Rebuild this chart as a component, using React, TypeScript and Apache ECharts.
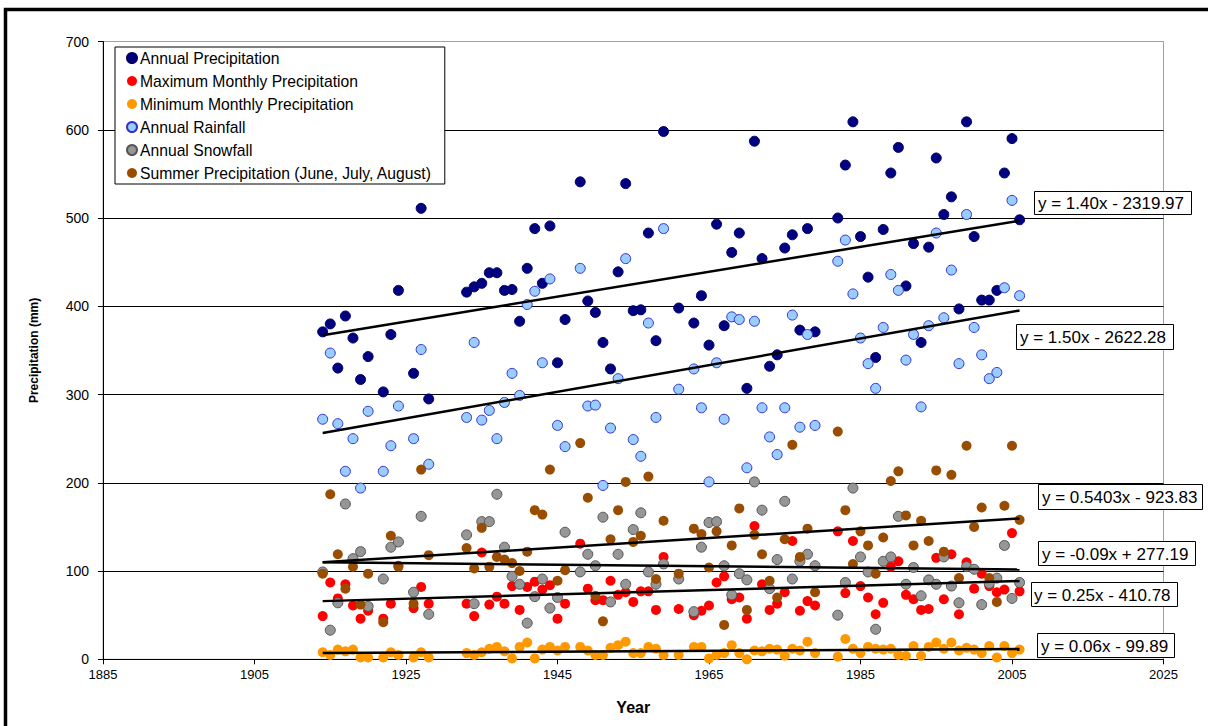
import React, { useEffect, useRef } from "react";
import * as echarts from "echarts";

const FONT = "'Liberation Sans', Arial, sans-serif";

const years = [
  1914, 1915, 1916, 1917, 1918, 1919, 1920, 1922, 1923, 1924, 1926, 1927, 1928,
  1933, 1934, 1935, 1936, 1937, 1938, 1939, 1940, 1941, 1942, 1943, 1944, 1945, 1946,
  1948, 1949, 1950, 1951, 1952, 1953, 1954, 1955, 1956, 1957, 1958, 1959,
  1961, 1963, 1964, 1965, 1966, 1967, 1968, 1969, 1970, 1971, 1972, 1973, 1974, 1975,
  1976, 1977, 1978, 1979, 1982, 1983, 1984, 1985, 1986, 1987, 1988, 1989, 1990, 1991,
  1992, 1993, 1994, 1995, 1996, 1997, 1998, 1999, 2000, 2001, 2002, 2003, 2004, 2005, 2006,
];

const annualPrecipitation = [
  371, 380, 330, 389, 364, 317, 343, 303, 368, 418, 324, 511, 295,
  416, 422, 426, 438, 438, 418, 419, 383, 443, 488, 426, 491, 336, 385,
  541, 406, 393, 359, 329, 439, 539, 395, 396, 483, 361, 598,
  398, 381, 412, 356, 493, 378, 461, 483, 307, 587, 454, 332, 345, 466,
  481, 373, 488, 371, 500, 560, 609, 479, 433, 342, 487, 551, 580, 423,
  471, 359, 467, 568, 504, 524, 397, 609, 479, 407, 407, 418, 551, 590, 498,
];

const maximumMonthly = [
  49, 87, 69, 85, 61, 46, 55, 46, 63, 106, 58, 82, 63,
  63, 49, 121, 62, 71, 63, 83, 56, 82, 88, 79, 84, 46, 63,
  131, 80, 67, 67, 89, 73, 76, 65, 77, 77, 56, 116,
  57, 50, 55, 61, 87, 94, 68, 70, 46, 151, 85, 56, 63, 76,
  134, 55, 66, 61, 145, 75, 134, 83, 70, 51, 64, 105, 111, 73,
  68, 56, 57, 115, 68, 119, 51, 110, 80, 97, 83, 76, 79, 143, 77,
];

const minimumMonthly = [
  8, 5, 11, 9, 11, 2, 2, 2, 8, 5, 2, 8, 2,
  7, 5, 8, 12, 14, 9, 1, 14, 19, 1, 11, 14, 10, 14,
  14, 10, 5, 5, 13, 16, 20, 7, 7, 14, 12, 5,
  5, 14, 14, 1, 5, 7, 16, 7, 0, 10, 9, 12, 11, 4,
  12, 10, 20, 7, 3, 23, 12, 7, 14, 12, 11, 12, 5, 4,
  15, 4, 14, 19, 12, 19, 10, 13, 11, 7, 15, 2, 15, 7, 11,
];

const annualRainfall = [
  272, 347, 267, 213, 250, 194, 281, 213, 242, 287, 250, 351, 221,
  274, 359, 271, 282, 250, 291, 324, 299, 402, 417, 336, 431, 265, 241,
  443, 287, 288, 197, 262, 318, 454, 249, 230, 381, 274, 488,
  306, 329, 285, 201, 336, 272, 388, 385, 217, 383, 285, 252, 232, 285,
  390, 263, 368, 265, 451, 475, 414, 364, 335, 307, 376, 436, 418, 339,
  368, 286, 378, 483, 387, 441, 335, 504, 376, 345, 318, 325, 421, 520, 412,
];

const annualSnowfall = [
  99, 33, 64, 176, 114, 122, 60, 91, 127, 133, 76, 162, 51,
  141, 63, 156, 156, 187, 127, 94, 85, 41, 71, 91, 58, 70, 144,
  99, 119, 106, 161, 65, 119, 85, 147, 166, 99, 85, 108,
  91, 54, 127, 155, 156, 106, 73, 97, 90, 201, 169, 80, 113, 179,
  91, 111, 119, 106, 50, 87, 194, 116, 99, 34, 111, 116, 162, 85,
  104, 72, 90, 85, 116, 83, 64, 105, 102, 62, 86, 92, 129, 69, 87,
];

const summerPrecipitation = [
  97, 187, 119, 80, 105, 62, 97, 42, 140, 105, 63, 215, 118,
  126, 103, 149, 105, 116, 113, 109, 100, 122, 169, 164, 215, 89, 101,
  245, 183, 72, 43, 136, 169, 201, 133, 140, 207, 91, 157,
  97, 148, 142, 104, 145, 39, 129, 171, 56, 141, 119, 89, 70, 136,
  243, 116, 148, 76, 258, 169, 108, 145, 129, 97, 138, 202, 213, 163,
  129, 157, 134, 214, 122, 209, 92, 242, 150, 172, 92, 65, 174, 242, 158,
];

const seriesNames = [
  "Annual Precipitation",
  "Maximum Monthly Precipitation",
  "Minimum Monthly Precipitation",
  "Annual Rainfall",
  "Annual Snowfall",
  "Summer Precipitation (June, July, August)",
];

const equationLabels = [
  "y = 1.40x - 2319.97",
  "y = 0.25x - 410.78",
  "y = 0.06x - 99.89",
  "y = 1.50x - 2622.28",
  "y = -0.09x + 277.19",
  "y = 0.5403x - 923.83",
];

const xTicks = { min: 1885, max: 2025, step: 20 };
const yTicks = { min: 0, max: 700, step: 100 };

const seriesValues = [
  annualPrecipitation,
  maximumMonthly,
  minimumMonthly,
  annualRainfall,
  annualSnowfall,
  summerPrecipitation,
];

const seriesStyles = [
  { color: "#000080", borderColor: "#000066", borderWidth: 1 },
  { color: "#ff0000", borderColor: "#ff0000", borderWidth: 0 },
  { color: "#ff9900", borderColor: "#ff9900", borderWidth: 0 },
  { color: "#99ccff", borderColor: "#3333cc", borderWidth: 1 },
  { color: "#969696", borderColor: "#555555", borderWidth: 1 },
  { color: "#994d00", borderColor: "#994d00", borderWidth: 0 },
];

// [boxLeft, boxTop, boxRight, boxBottom, textLeft] per equation label (same order as equationLabels)
const labelBoxes = [
  [1034, 191, 1191, 214, 1038],
  [1031, 582, 1177, 606, 1034],
  [1037, 633, 1174, 657, 1041],
  [1016, 324, 1173, 349, 1020],
  [1038, 541, 1195, 565, 1042],
  [1038, 484, 1202, 509, 1042],
];

function linearFit(xs: number[], ys: number[]) {
  const n = xs.length;
  let sx = 0, sy = 0, sxx = 0, sxy = 0;
  for (let i = 0; i < n; i++) {
    sx += xs[i];
    sy += ys[i];
    sxx += xs[i] * xs[i];
    sxy += xs[i] * ys[i];
  }
  const slope = (n * sxy - sx * sy) / (n * sxx - sx * sx);
  const intercept = (sy - slope * sx) / n;
  return { slope, intercept };
}

export default function App() {
  const ref = useRef<HTMLDivElement>(null);

  useEffect(() => {
    document.body.style.margin = "0";
    const chart = echarts.init(ref.current as HTMLDivElement, null, { renderer: "svg" });

    const scatterSeries = seriesNames.map((name, i) => ({
      name,
      type: "scatter",
      data: years.map((y, j) => [y, seriesValues[i][j]]),
      symbol: "circle",
      symbolSize: 10,
      itemStyle: { ...seriesStyles[i], opacity: 1 },
      emphasis: { disabled: true },
      z: 2,
    }));

    const x0 = years[0];
    const x1 = years[years.length - 1];
    const trendSeries = seriesValues.map((vals, i) => {
      const { slope, intercept } = linearFit(years, vals);
      return {
        name: "trend" + i,
        type: "line",
        data: [
          [x0, slope * x0 + intercept],
          [x1, slope * x1 + intercept],
        ],
        symbol: "none",
        silent: true,
        lineStyle: { color: "#000", width: 2.5 },
        emphasis: { disabled: true },
        z: 3,
      };
    });

    const splitColors: string[] = [];
    for (let v = yTicks.min; v <= yTicks.max; v += yTicks.step) {
      splitColors.push(v === yTicks.max ? "#a0a0a0" : "#000");
    }

    const graphics: any[] = [
      {
        type: "rect",
        shape: { x: 5.5, y: 9.5, width: 1400, height: 1000 },
        style: { fill: "none", stroke: "#000", lineWidth: 3.5 },
        silent: true,
        z: 100,
      },
    ];
    equationLabels.forEach((txt, i) => {
      const [l, t, r, b, tx] = labelBoxes[i];
      graphics.push({
        type: "rect",
        shape: { x: l + 0.5, y: t + 0.5, width: r - l, height: b - t },
        style: { fill: "#fff", stroke: "#000", lineWidth: 1 },
        silent: true,
        z: 50,
      });
      graphics.push({
        type: "text",
        x: tx,
        y: (t + b) / 2 + 1,
        style: {
          text: txt,
          fill: "#000",
          fontSize: 17,
          fontFamily: FONT,
          verticalAlign: "middle",
          align: "left",
        },
        silent: true,
        z: 51,
      });
    });

    chart.setOption({
      animation: false,
      backgroundColor: "#fff",
      textStyle: { fontFamily: FONT },
      grid: {
        left: 103,
        right: 44.5,
        top: 41.5,
        bottom: 66.7,
        show: true,
        borderColor: "#a0a0a0",
        borderWidth: 1,
        backgroundColor: "transparent",
        containLabel: false,
        outerBoundsMode: "none",
      },
      legend: {
        data: seriesNames,
        orient: "vertical",
        left: 115,
        top: 47,
        padding: [3, 13, 3, 11],
        itemGap: 7,
        itemWidth: 10,
        itemHeight: 16,
        backgroundColor: "#fff",
        borderColor: "#000",
        borderWidth: 1,
        selectedMode: false,
        textStyle: { fontSize: 15.7, color: "#000", fontFamily: FONT, padding: [0, 0, 0, -2] },
      },
      xAxis: {
        type: "value",
        min: xTicks.min,
        max: xTicks.max,
        interval: xTicks.step,
        name: "Year",
        nameLocation: "middle",
        nameGap: 40,
        nameTextStyle: { fontSize: 16, fontWeight: "bold", color: "#000", fontFamily: FONT },
        axisLine: { show: true, onZero: false, lineStyle: { color: "#000", width: 1 } },
        axisTick: { show: true, inside: false, length: 5, lineStyle: { color: "#000" } },
        axisLabel: {
          fontSize: 13,
          color: "#000",
          margin: 9,
          fontFamily: FONT,
          formatter: (v: number) => String(v),
        },
        splitLine: { show: false },
      },
      yAxis: {
        type: "value",
        min: yTicks.min,
        max: yTicks.max,
        interval: yTicks.step,
        name: "Precipitation (mm)",
        nameLocation: "middle",
        nameGap: 63,
        nameRotate: 90,
        nameTextStyle: { fontSize: 12, fontWeight: "bold", color: "#000", fontFamily: FONT },
        axisLine: { show: true, onZero: false, lineStyle: { color: "#000", width: 1 } },
        axisTick: { show: true, inside: false, length: 5, lineStyle: { color: "#000" } },
        axisLabel: {
          fontSize: 14,
          color: "#000",
          margin: 14,
          fontFamily: FONT,
          formatter: (v: number) => String(v),
        },
        splitLine: { show: true, lineStyle: { color: splitColors, width: 1 } },
      },
      series: [...scatterSeries, ...trendSeries],
      graphic: graphics,
    });

    return () => chart.dispose();
  }, []);

  return <div ref={ref} style={{ width: 1208, height: 726 }} />;
}
